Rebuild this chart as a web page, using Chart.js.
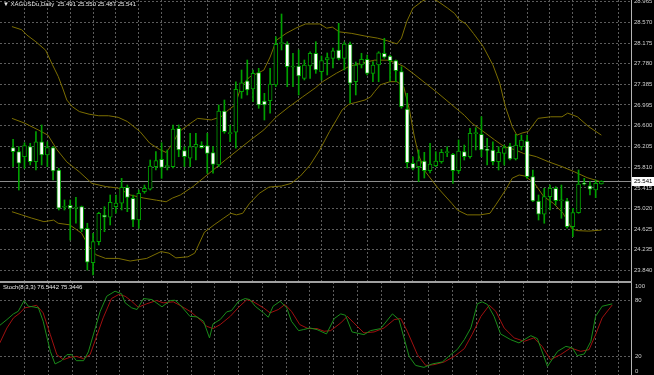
<!DOCTYPE html>
<html>
<head>
<meta charset="utf-8">
<script src="https://cdn.jsdelivr.net/npm/chart.js@4.4.1/dist/chart.umd.min.js"></script>
<style>
  html, body { margin: 0; padding: 0; background: #000; }
  #wrap { position: relative; width: 654px; height: 375px; overflow: hidden; background: #000; }
  #mainChart { position: absolute; left: 0; top: 0; }
  #stochChart { position: absolute; left: 0; top: 282px; }
  #sep { position: absolute; left: 0; top: 281px; width: 632px; height: 2px; background: #a0a0a0; }
  .caption { position: absolute; color: #e6e6e6; font: 6px "Liberation Sans", Arial, sans-serif; white-space: pre; }
</style>
</head>
<body>
<div id="wrap">
  <canvas id="mainChart" width="654" height="281"></canvas>
  <canvas id="stochChart" width="654" height="93"></canvas>
  <div id="sep"></div>
  <div class="caption" style="left:3px; top:1px;">&#9660; XAGUSDu,Daily  25.491 25.550 25.487 25.541</div>
  <div class="caption" style="left:3px; top:284px;">Stoch(8,3,3) 76.5442 75.3446</div>
</div>
<script>
// daily candles, oldest first (bar index 0..103)
const open = [26.181, 26.105, 26.009, 26.200, 25.914, 26.295, 26.042, 26.181, 25.756, 25.045,
  25.083, 25.026, 25.056, 24.644, 23.988, 24.389, 24.898, 24.854, 25.056, 25.121,
  25.426, 25.216, 24.802, 25.342, 25.388, 25.819, 25.960, 25.819, 25.819, 26.551,
  26.124, 25.979, 26.189, 26.227, 26.219, 26.086, 25.851, 26.881, 26.448, 26.475,
  27.249, 27.458, 27.300, 27.611, 27.071, 27.077, 27.376, 28.164, 28.158, 27.720,
  27.739, 27.504, 27.739, 27.981, 27.630, 27.853, 27.885, 28.044, 27.885, 28.152,
  27.439, 27.758, 27.866, 27.599, 27.758, 27.981, 27.929, 27.840, 27.630, 26.919,
  25.884, 25.819, 25.927, 25.743, 25.838, 25.914, 26.086, 26.055, 25.743, 26.105,
  26.009, 26.448, 26.436, 26.137, 26.137, 25.914, 26.074, 26.213, 25.965, 26.200,
  26.309, 25.628, 25.165, 24.911, 25.247, 25.407, 25.170, 25.170, 24.675, 24.942,
  25.489, 25.456, 25.374, 25.491];
const high = [26.341, 26.200, 26.276, 26.265, 26.486, 26.614, 26.295, 26.200, 25.788, 25.184,
  25.184, 25.235, 25.069, 24.740, 24.549, 24.950, 25.056, 25.279, 25.279, 25.597,
  25.470, 25.279, 25.374, 25.470, 25.946, 26.105, 26.276, 26.137, 26.614, 26.614,
  26.200, 26.456, 26.456, 26.295, 26.456, 26.200, 26.995, 27.090, 26.614, 27.439,
  27.662, 27.853, 27.662, 27.695, 27.218, 27.695, 28.297, 28.730, 28.202, 27.981,
  28.044, 27.853, 28.011, 28.202, 27.929, 27.987, 28.082, 28.553, 28.196, 28.196,
  27.815, 27.981, 27.948, 27.821, 28.011, 28.267, 27.948, 27.853, 27.725, 27.218,
  26.009, 26.137, 26.093, 26.265, 26.105, 26.150, 26.200, 26.074, 26.328, 26.232,
  26.551, 26.562, 26.772, 26.360, 26.295, 26.200, 26.232, 26.265, 26.436, 26.423,
  26.423, 25.756, 25.279, 25.407, 25.470, 25.437, 25.470, 25.216, 25.026, 25.756,
  25.597, 25.533, 25.565, 25.550];
const low = [25.819, 25.374, 25.788, 25.851, 25.756, 25.851, 25.819, 25.565, 24.993, 24.993,
  24.421, 24.740, 24.579, 23.849, 23.754, 24.326, 24.579, 24.707, 24.930, 24.993,
  24.961, 24.675, 24.644, 25.312, 25.374, 25.756, 25.597, 25.756, 25.794, 26.009,
  25.819, 25.819, 25.946, 26.170, 25.693, 25.693, 25.819, 26.456, 26.295, 26.170,
  27.123, 27.186, 27.058, 26.932, 26.709, 26.837, 27.344, 28.044, 27.344, 27.344,
  27.186, 27.472, 27.504, 27.599, 27.472, 27.567, 27.701, 27.853, 27.662, 27.033,
  27.186, 27.701, 27.567, 27.439, 27.439, 27.885, 27.453, 27.439, 26.932, 25.794,
  25.756, 25.533, 25.603, 25.699, 25.819, 25.884, 26.009, 25.502, 25.693, 25.946,
  25.979, 26.137, 26.009, 25.851, 25.851, 25.756, 25.851, 25.946, 25.946, 26.137,
  25.597, 25.151, 24.802, 24.740, 24.993, 25.088, 24.835, 24.644, 24.484, 24.930,
  25.470, 25.279, 25.228, 25.487];
const close = [26.105, 25.884, 26.219, 25.914, 26.295, 26.042, 26.181, 25.737, 25.026, 25.056,
  25.026, 25.037, 24.625, 23.996, 24.389, 24.930, 24.854, 25.140, 25.127, 25.426,
  25.235, 24.802, 25.312, 25.407, 25.832, 25.933, 25.807, 25.826, 26.537, 26.137,
  26.009, 26.200, 26.246, 26.181, 26.074, 25.864, 26.881, 26.486, 26.456, 27.294,
  27.420, 27.281, 27.599, 26.995, 26.995, 27.395, 28.152, 28.171, 27.725, 27.725,
  27.548, 27.758, 27.981, 27.662, 27.840, 27.901, 28.030, 27.885, 28.158, 27.409,
  27.758, 27.866, 27.599, 27.758, 27.992, 27.905, 27.840, 27.649, 26.963, 25.895,
  25.788, 25.933, 25.743, 25.870, 25.927, 26.093, 26.093, 25.743, 26.118, 26.009,
  26.456, 26.456, 26.137, 26.131, 25.914, 26.093, 26.181, 25.965, 26.232, 26.328,
  25.628, 25.165, 24.911, 25.247, 25.407, 25.170, 25.178, 24.675, 24.942, 25.489,
  25.483, 25.388, 25.502, 25.541];

// Bollinger bands (bar position, price)
const upperIdx = [-0.2, 1.5, 2.4, 4.0, 5.7, 6.9, 7.9, 8.8, 9.4, 10.4, 11.6, 13.3, 15.0, 16.7, 18.4, 20.0, 22.2, 23.9, 25.6, 26.8,
  28.0, 29.0, 30.6, 32.3, 34.7, 36.4, 37.7, 38.9, 39.9, 41.4, 42.8, 43.9, 45.0, 46.1, 47.8, 49.5, 51.2, 53.7, 54.9, 55.9,
  57.1, 59.3, 61.6, 63.8, 65.5, 67.2, 68.0, 68.9, 70.0, 71.7, 73.1, 74.4, 76.1, 77.3, 78.1, 79.3, 80.6, 82.3, 84.0, 85.2,
  86.2, 87.4, 88.2, 89.1, 90.2, 91.9, 94.1, 96.1, 97.1, 98.8, 100.8, 103.0];
const upperBand = [28.49, 28.43, 28.33, 28.20, 28.04, 27.76, 27.54, 27.28, 27.09, 26.96, 26.87, 26.82, 26.79, 26.79, 26.76, 26.68, 26.49, 26.27, 26.15, 26.09,
  26.27, 26.48, 26.61, 26.74, 26.71, 26.77, 26.90, 27.00, 27.34, 27.53, 27.60, 27.66, 27.91, 28.23, 28.36, 28.46, 28.54, 28.54, 28.46, 28.48,
  28.39, 28.36, 28.31, 28.27, 28.22, 28.16, 28.27, 28.58, 28.84, 28.98, 29.04, 28.97, 28.84, 28.74, 28.62, 28.54, 28.36, 28.11, 27.76, 27.41,
  26.96, 26.58, 26.42, 26.46, 26.49, 26.74, 26.77, 26.77, 26.84, 26.77, 26.58, 26.42];
const midIdx = [-0.2, 2.0, 4.4, 6.1, 7.7, 9.4, 11.6, 13.8, 16.2, 18.4, 20.5, 22.9, 25.1, 26.8, 27.9, 29.3, 31.5, 34.3, 37.2, 39.4,
  41.6, 43.9, 46.1, 48.3, 50.7, 52.9, 54.2, 56.6, 58.8, 60.9, 63.3, 65.5, 67.2, 68.4, 70.0, 72.2, 74.4, 76.8, 79.0, 80.3,
  82.7, 84.3, 86.0, 87.9, 89.4, 91.6, 93.8, 96.1, 98.3, 100.5, 102.9];
const midBand = [26.74, 26.65, 26.52, 26.42, 26.14, 25.91, 25.72, 25.50, 25.44, 25.41, 25.28, 25.22, 25.18, 25.15, 25.22, 25.28, 25.44, 25.69, 25.95, 26.14,
  26.33, 26.52, 26.77, 26.96, 27.15, 27.32, 27.44, 27.60, 27.73, 27.79, 27.85, 27.85, 27.79, 27.73, 27.60, 27.41, 27.22, 27.00, 26.80, 26.65,
  26.46, 26.33, 26.20, 26.14, 26.07, 26.01, 25.91, 25.82, 25.72, 25.61, 25.53];
const lowIdx = [-0.2, 1.5, 3.2, 5.4, 7.1, 7.9, 9.9, 12.0, 13.3, 14.5, 16.2, 18.4, 20.5, 23.4, 25.9, 27.3, 28.5, 30.6, 31.8, 33.5,
  35.2, 36.9, 38.1, 39.1, 40.2, 41.4, 43.1, 44.8, 47.0, 48.7, 50.3, 52.0, 53.7, 55.4, 56.6, 57.6, 58.8, 59.9, 61.6, 62.6,
  63.3, 64.3, 66.0, 67.2, 68.4, 69.4, 70.2, 71.0, 72.2, 74.4, 76.8, 77.8, 79.5, 81.8, 83.5, 84.5, 86.2, 87.4, 88.6, 89.6,
  91.3, 92.9, 94.6, 96.3, 97.8, 98.7, 100.8, 103.0];
const lowBand = [24.96, 24.90, 24.84, 24.77, 24.80, 24.74, 24.71, 24.55, 24.29, 24.14, 24.07, 24.07, 24.02, 24.07, 24.20, 24.17, 24.08, 24.10, 24.17, 24.57,
  24.71, 24.84, 24.93, 24.90, 24.93, 25.12, 25.31, 25.43, 25.45, 25.50, 25.64, 25.85, 26.14, 26.49, 26.71, 26.90, 27.01, 27.04, 27.09, 27.15,
  27.25, 27.38, 27.44, 27.44, 27.34, 26.90, 26.42, 26.04, 25.72, 25.41, 25.12, 24.99, 24.90, 24.90, 24.93, 25.09, 25.37, 25.60, 25.66, 25.64,
  25.50, 25.25, 25.12, 24.93, 24.64, 24.60, 24.59, 24.61];

// Stochastic(8,3,3): %K (green) and %D (red)
const kIdx = [-0.2, 1.0, 2.1, 2.9, 3.9, 4.6, 5.4, 6.3, 7.1, 8.3, 9.1, 10.2, 11.1, 11.9, 12.7, 13.9, 14.7, 15.8, 16.7, 17.8,
  19.2, 20.3, 20.9, 22.0, 22.9, 24.0, 25.4, 27.1, 28.5, 29.3, 30.1, 31.8, 33.0, 34.1, 35.1, 35.7, 36.9, 38.0, 38.8, 40.0,
  41.1, 41.9, 42.8, 44.2, 45.0, 45.8, 47.0, 48.1, 48.9, 50.1, 50.9, 52.0, 53.2, 54.8, 56.1, 57.2, 58.0, 59.1, 61.1, 62.2,
  63.9, 65.9, 67.0, 68.7, 69.8, 71.2, 72.6, 74.3, 75.7, 76.8, 78.0, 79.1, 80.2, 81.0, 81.9, 83.0, 84.1, 85.8, 87.2, 89.2,
  90.3, 92.0, 93.7, 95.1, 96.2, 97.0, 98.2, 99.3, 100.1, 101.2, 102.9];
const kLine = [53.4, 59.6, 65.7, 68.5, 80.1, 73.9, 73.3, 72.2, 57.8, 25.4, 11.9, 15.4, 21.9, 21.9, 15.4, 15.4, 24.8, 48.8, 68.5, 84.7,
  90.1, 87.3, 77.6, 72.2, 70.4, 82.2, 81.1, 73.3, 80.1, 80.4, 75.8, 63.1, 62.5, 57.8, 39.9, 55.0, 59.6, 67.9, 69.3, 79.3,
  82.2, 81.1, 73.9, 66.8, 62.1, 73.9, 79.3, 72.2, 57.8, 47.7, 48.8, 50.6, 48.8, 44.2, 60.7, 65.7, 64.2, 46.3, 43.4, 47.7,
  49.9, 65.7, 59.6, 20.0, 10.3, 8.2, 11.9, 14.0, 21.9, 27.3, 38.0, 50.6, 76.5, 78.7, 75.8, 63.1, 44.2, 38.0, 34.5, 42.3,
  39.1, 9.3, 25.4, 30.8, 29.1, 20.8, 22.6, 36.2, 63.1, 73.9, 76.5];
const dIdx = [-0.2, 1.0, 2.1, 3.2, 4.0, 4.9, 6.0, 7.1, 8.3, 9.4, 10.5, 11.6, 12.7, 13.9, 15.0, 16.1, 17.2, 18.6, 19.8, 20.9,
  22.0, 23.1, 24.5, 26.2, 27.3, 29.0, 30.4, 31.8, 33.5, 34.6, 35.7, 36.9, 38.6, 40.0, 41.4, 42.5, 44.2, 45.3, 46.7, 47.8,
  48.9, 50.3, 51.7, 53.2, 54.4, 55.5, 57.2, 58.3, 59.4, 61.1, 62.8, 64.5, 66.2, 67.3, 68.4, 70.1, 71.5, 72.9, 74.6, 76.3,
  78.0, 79.3, 80.8, 82.2, 83.3, 84.7, 86.4, 88.1, 89.7, 91.1, 92.5, 94.2, 95.9, 97.6, 99.0, 100.1, 101.2, 102.9];
const dLine = [34.5, 50.6, 61.4, 66.8, 72.2, 73.3, 75.0, 66.8, 43.4, 21.9, 16.5, 19.0, 20.0, 17.6, 21.9, 41.6, 61.4, 82.2, 86.5, 84.7,
  79.3, 72.8, 76.5, 80.1, 77.6, 78.7, 73.9, 68.5, 59.6, 52.4, 49.9, 54.2, 63.1, 72.8, 81.1, 78.7, 72.2, 66.8, 70.4, 75.8,
  68.5, 54.2, 49.9, 49.9, 47.0, 47.7, 56.0, 63.1, 56.0, 45.3, 46.3, 50.6, 59.6, 60.7, 47.0, 21.9, 10.3, 11.1, 14.0, 20.0,
  28.3, 43.4, 63.1, 75.0, 68.5, 50.6, 39.9, 36.2, 39.9, 30.8, 16.5, 21.9, 29.1, 25.4, 27.3, 43.4, 61.4, 75.3];

// axis labels
const priceTicks = [28.965, 28.570, 28.175, 27.780, 27.385, 26.995, 26.600, 26.205, 25.810, 25.415, 25.020, 24.625, 24.235, 23.840];
const stochLevels = [20, 80];
const stochLabels = [100, 80, 20, 0];
const gridBars = [4, 8, 12, 16, 20, 24, 28, 32, 36, 40, 44, 48, 52, 56, 60, 64, 68, 72, 76, 80, 84, 88, 92, 96, 100, 104];

const GREEN = '#00a000';
const BAND = '#7c6e00';
const GRID = '#5c5c5c';
const AXIS = '#b4b4b4';
const XMIN = -0.168, XMAX = 106.06;

Chart.defaults.font.family = "'Liberation Sans', Arial, sans-serif";
Chart.defaults.font.size = 6;
Chart.defaults.color = '#d0d0d0';

const pts = (xs, ys) => xs.map((x, i) => ({ x: x, y: ys[i] }));
const bars = open.map((o, i) => i);

function xAxis() {
  return {
    type: 'linear', min: XMIN, max: XMAX,
    afterBuildTicks: s => { s.ticks = gridBars.map(v => ({ value: v })); },
    afterFit: s => { s.height = 0; },
    ticks: { display: false },
    grid: { color: GRID, drawTicks: false },
    border: { display: false, dash: [2, 2] }
  };
}

// bid line and its price box on the axis
const bidLine = {
  id: 'bidLine',
  beforeDatasetsDraw(chart) {
    const { ctx, chartArea, scales } = chart;
    const y = Math.round(scales.y.getPixelForValue(close[close.length - 1])) + 0.5;
    ctx.save();
    ctx.strokeStyle = '#8c8c8c';
    ctx.lineWidth = 1;
    ctx.beginPath();
    ctx.moveTo(chartArea.left, y);
    ctx.lineTo(chartArea.right, y);
    ctx.stroke();
    ctx.restore();
  },
  afterDraw(chart) {
    const { ctx, chartArea, scales } = chart;
    const last = close[close.length - 1];
    const y = Math.round(scales.y.getPixelForValue(last));
    ctx.save();
    ctx.fillStyle = '#ffffff';
    ctx.fillRect(chartArea.right + 1, y - 4, 22, 9);
    ctx.fillStyle = '#000000';
    ctx.font = "6px 'Liberation Sans', Arial, sans-serif";
    ctx.textBaseline = 'middle';
    ctx.fillText(last.toFixed(3), chartArea.right + 3, y + 0.5);
    ctx.restore();
  }
};

new Chart(document.getElementById('mainChart'), {
  data: {
    datasets: [
      {
        type: 'bar', label: 'body', order: 0, grouped: false,
        data: bars.map(i => ({ x: i, y: [Math.min(open[i], close[i]), Math.max(open[i], close[i])] })),
        backgroundColor: bars.map(i => close[i] < open[i] ? '#ffffff' : '#000000'),
        borderColor: GREEN, borderWidth: 1, borderSkipped: false,
        barThickness: 4, minBarLength: 1
      },
      {
        type: 'bar', label: 'wick', order: 1, grouped: false,
        data: bars.map(i => ({ x: i, y: [low[i], high[i]] })),
        backgroundColor: GREEN, borderWidth: 0, barThickness: 1
      },
      { type: 'line', label: 'upper', order: 2, data: pts(upperIdx, upperBand), borderColor: BAND, borderWidth: 1, pointRadius: 0, tension: 0 },
      { type: 'line', label: 'middle', order: 2, data: pts(midIdx, midBand), borderColor: BAND, borderWidth: 1, pointRadius: 0, tension: 0 },
      { type: 'line', label: 'lower', order: 2, data: pts(lowIdx, lowBand), borderColor: BAND, borderWidth: 1, pointRadius: 0, tension: 0 }
    ]
  },
  options: {
    responsive: false, animation: false, devicePixelRatio: 1,
    events: [],
    layout: { padding: 0 },
    plugins: { legend: { display: false }, tooltip: { enabled: false } },
    scales: {
      x: xAxis(),
      y: {
        position: 'right', min: 23.639, max: 28.997,
        afterBuildTicks: s => { s.ticks = priceTicks.map(v => ({ value: v })); },
        afterFit: s => { s.width = 23; s.paddingTop = 0; s.paddingBottom = 0; },
        ticks: { padding: 3, color: '#d0d0d0', callback: v => v.toFixed(3) },
        grid: { color: GRID, drawTicks: false },
        border: { display: true, color: AXIS, dash: [2, 2] }
      }
    }
  },
  plugins: [bidLine]
});

// level labels of the oscillator window
const stochAxis = {
  id: 'stochAxis',
  afterDraw(chart) {
    const { ctx, chartArea, scales } = chart;
    ctx.save();
    ctx.fillStyle = '#d0d0d0';
    ctx.font = "6px 'Liberation Sans', Arial, sans-serif";
    stochLabels.forEach(v => {
      let y = scales.y.getPixelForValue(v);
      ctx.textBaseline = v === 100 ? 'top' : v === 0 ? 'bottom' : 'middle';
      ctx.fillText(String(v), chartArea.right + 4, v === 100 ? y + 1 : v === 0 ? y - 1 : y);
    });
    ctx.restore();
  }
};

new Chart(document.getElementById('stochChart'), {
  type: 'line',
  data: {
    datasets: [
      { label: 'main', data: pts(kIdx, kLine), borderColor: '#1a8c1a', borderWidth: 1, pointRadius: 0, tension: 0 },
      { label: 'signal', data: pts(dIdx, dLine), borderColor: '#a01010', borderWidth: 1, pointRadius: 0, tension: 0 }
    ]
  },
  options: {
    responsive: false, animation: false, devicePixelRatio: 1,
    events: [],
    layout: { padding: 0 },
    plugins: { legend: { display: false }, tooltip: { enabled: false } },
    scales: {
      x: xAxis(),
      y: {
        position: 'right', min: 0, max: 100,
        afterBuildTicks: s => { s.ticks = stochLevels.map(v => ({ value: v })); },
        afterFit: s => { s.width = 23; s.paddingTop = 0; s.paddingBottom = 0; },
        ticks: { display: false },
        grid: { color: GRID, drawTicks: false },
        border: { display: true, color: AXIS, dash: [2, 2] }
      }
    }
  },
  plugins: [stochAxis]
});
</script>
</body>
</html>
